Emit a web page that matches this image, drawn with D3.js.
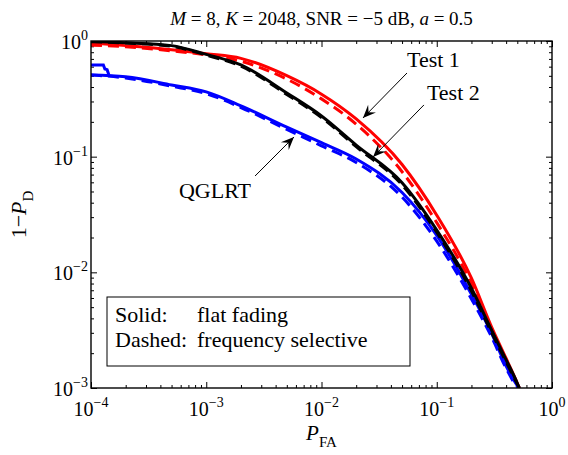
<!DOCTYPE html>
<html>
<head>
<meta charset="utf-8">
<script src="https://cdn.jsdelivr.net/npm/d3@7"></script>
<style>
  body { margin: 0; background: #fff; }
</style>
</head>
<body>
<div id="chart"></div>
<script>
const WIDTH = 568;
const HEIGHT = 455;
const MARGIN = { TOP: 41, BOTTOM: 67, LEFT: 91, RIGHT: 16 };
const SERIF = "'Liberation Serif'";

// shared P_FA grid
const pfa = [1e-4, 2e-4, 5e-4, 1e-3, 2e-3, 5e-3, 1e-2, 2e-2, 5e-2, 0.1, 0.2, 0.3, 0.4, 0.5, 0.52];

// 1 - P_D
const test1Flat = [0.962, 0.912, 0.841, 0.776, 0.708, 0.501, 0.347, 0.212, 0.0855, 0.0312, 0.00891, 0.00335, 0.0018, 0.00110, 0.001];
const test1Sel  = [0.923, 0.891, 0.822, 0.759, 0.668, 0.468, 0.316, 0.191, 0.0741, 0.0269, 0.00794, 0.00310, 0.00170, 0.00107, 0.001];
const test2Flat = [0.989, 0.966, 0.912, 0.767, 0.621, 0.355, 0.225, 0.126, 0.0595, 0.0232, 0.00729, 0.00315, 0.00175, 0.0011, 0.001];
const test2Sel  = [0.985, 0.960, 0.900, 0.755, 0.605, 0.345, 0.218, 0.122, 0.0570, 0.0222, 0.0069, 0.0030, 0.00168, 0.00108, 0.001];
const qglrtFlat = [0.508, 0.490, 0.417, 0.363, 0.275, 0.180, 0.132, 0.0955, 0.049, 0.0209, 0.00646, 0.00295, 0.00155, 0.00105, 0.001];
const qglrtSel  = [0.510, 0.479, 0.407, 0.351, 0.266, 0.172, 0.124, 0.0891, 0.0447, 0.0186, 0.00589, 0.00275, 0.00148, 0.00103, 0.001];

// stair at the very start of the flat-fading QGLRT curve
const qglrtHeadPfa = [1e-4, 1.28e-4, 1.32e-4, 1.38e-4, 1.43e-4];
const qglrtHeadVal = [0.62, 0.62, 0.573, 0.565, 0.508];

const xMajor = [1e-4, 1e-3, 1e-2, 1e-1, 1];
const yMajor = [1e-3, 1e-2, 1e-1, 1];
const xExp = ["−4", "−3", "−2", "−1", "0"];
const yExp = ["−3", "−2", "−1", "0"];

// annotation anchors, in data units
const notes = [
  { label: "Test 1", text: [0.0552, 0.596], tail: [0.0552, 0.529], head: [0.0229, 0.216] },
  { label: "Test 2", text: [0.0822, 0.309], tail: [0.0774, 0.280], head: [0.028, 0.0993] },
  { label: "QGLRT", text: [5.8e-4, 0.0439], tail: [0.00265, 0.068], head: [0.00577, 0.148] }
];

const w = WIDTH - MARGIN.LEFT - MARGIN.RIGHT;
const h = HEIGHT - MARGIN.TOP - MARGIN.BOTTOM;

const svg = d3.select('#chart')
  .append('svg')
    .attr('width', WIDTH)
    .attr('height', HEIGHT);

const g = svg.append('g')
  .attr('transform', `translate(${MARGIN.LEFT}, ${MARGIN.TOP})`);

// every text goes through here so the serif face sticks
const addText = (parent, size) => parent.append('text')
  .style('font-family', SERIF)
  .style('font-size', size + 'px')
  .attr('fill', '#000');

const x = d3.scaleLog().domain([1e-4, 1]).range([0, w]);
const y = d3.scaleLog().domain([1e-3, 1]).range([h, 0]);

const minors = (lo, hi) => {
  let out = [];
  for (let e = lo; e < hi; e++)
    for (let k = 2; k <= 9; k++) out.push(k * Math.pow(10, e));
  return out;
};
const xMinor = minors(-4, 0);
const yMinor = minors(-3, 0);

// ticks on all four sides, pointing inward
const addAxis = (axisFn, scale, vals, size, tr) => {
  const a = g.append('g')
    .attr('transform', tr)
    .call(axisFn(scale).tickValues(vals).tickSize(-size).tickFormat(''));
  a.select('.domain').remove();
  a.selectAll('line').attr('stroke', '#000').attr('stroke-width', 1);
};
addAxis(d3.axisBottom, x, xMajor, 6, `translate(0, ${h})`);
addAxis(d3.axisBottom, x, xMinor, 3, `translate(0, ${h})`);
addAxis(d3.axisTop, x, xMajor, 6, 'translate(0, 0)');
addAxis(d3.axisTop, x, xMinor, 3, 'translate(0, 0)');
addAxis(d3.axisLeft, y, yMajor, 6, 'translate(0, 0)');
addAxis(d3.axisLeft, y, yMinor, 3, 'translate(0, 0)');
addAxis(d3.axisRight, y, yMajor, 6, `translate(${w}, 0)`);
addAxis(d3.axisRight, y, yMinor, 3, `translate(${w}, 0)`);

g.append('defs').append('clipPath').attr('id', 'clip')
  .append('rect').attr('width', w).attr('height', h);

const line = d3.line()
  .x(d => x(d[0]))
  .y(d => y(d[1]))
  .curve(d3.curveMonotoneX);

const series = [
  { vals: test1Flat, color: '#ff0000', dash: null },
  { vals: test1Sel, color: '#ff0000', dash: '11,6' },
  { vals: qglrtFlat, color: '#0000ff', dash: null },
  { vals: qglrtSel, color: '#0000ff', dash: '11,6' },
  { vals: test2Flat, color: '#000000', dash: null },
  { vals: test2Sel, color: '#000000', dash: '11,6' }
];

const curves = g.append('g').attr('clip-path', 'url(#clip)');

curves.append('path')
  .datum(qglrtHeadPfa.map((p, i) => [p, qglrtHeadVal[i]]))
  .attr('d', d3.line().x(d => x(d[0])).y(d => y(d[1])))
  .attr('fill', 'none')
  .attr('stroke', '#0000ff')
  .attr('stroke-width', 3);

series.forEach(s => {
  curves.append('path')
    .datum(pfa.map((p, i) => [p, s.vals[i]]))
    .attr('d', line)
    .attr('fill', 'none')
    .attr('stroke', s.color)
    .attr('stroke-width', 3)
    .attr('stroke-dasharray', s.dash);
});

// box
g.append('rect')
  .attr('width', w)
  .attr('height', h)
  .attr('fill', 'none')
  .attr('stroke', '#000')
  .attr('stroke-width', 1.4);

// tick labels
xMajor.forEach((v, i) => {
  const t = addText(g, 20)
    .attr('x', x(v))
    .attr('y', h + 28)
    .attr('text-anchor', 'middle');
  t.append('tspan').text('10');
  t.append('tspan').attr('dy', -9).style('font-size', '14px').text(xExp[i]);
});

yMajor.forEach((v, i) => {
  const t = addText(g, 20)
    .attr('x', -3)
    .attr('y', y(v) + 8)
    .attr('text-anchor', 'end');
  t.append('tspan').text('10');
  t.append('tspan').attr('dy', -9).style('font-size', '14px').text(yExp[i]);
});

// axis labels
const xt = addText(svg, 21)
  .attr('x', MARGIN.LEFT + w / 2)
  .attr('y', 440)
  .attr('text-anchor', 'middle');
xt.append('tspan').style('font-style', 'italic').text('P');
xt.append('tspan').attr('dy', 7).style('font-size', '15px').text('FA');

const yt = addText(svg, 22)
  .attr('transform', `translate(26, ${MARGIN.TOP + h / 2}) rotate(-90)`)
  .attr('text-anchor', 'middle');
yt.append('tspan').text('1−');
yt.append('tspan').style('font-style', 'italic').text('P');
yt.append('tspan').attr('dy', 7).style('font-size', '15px').text('D');

// title
const tt = addText(svg, 19)
  .attr('x', MARGIN.LEFT + w / 2)
  .attr('y', 25)
  .attr('text-anchor', 'middle');
tt.append('tspan').style('font-style', 'italic').text('M');
tt.append('tspan').text(' = 8, ');
tt.append('tspan').style('font-style', 'italic').text('K');
tt.append('tspan').text(' = 2048, SNR = −5 dB, ');
tt.append('tspan').style('font-style', 'italic').text('a');
tt.append('tspan').text(' = 0.5');

// arrows
const arrowHead = (hx, hy, tx, ty) => {
  const ang = Math.atan2(hy - ty, hx - tx);
  const L = 13, W = 5.5, N = 8;
  const p = (d, o) => [hx - d * Math.cos(ang) - o * Math.sin(ang), hy - d * Math.sin(ang) + o * Math.cos(ang)];
  return [[hx, hy], p(L, W), p(N, 0), p(L, -W)];
};

notes.forEach(n => {
  const tx = x(n.tail[0]), ty = y(n.tail[1]);
  const hx = x(n.head[0]), hy = y(n.head[1]);
  g.append('line')
    .attr('x1', tx).attr('y1', ty)
    .attr('x2', hx).attr('y2', hy)
    .attr('stroke', '#000')
    .attr('stroke-width', 1);
  g.append('path')
    .attr('d', 'M' + arrowHead(hx, hy, tx, ty).join('L') + 'Z')
    .attr('fill', '#000');
  addText(g, 22)
    .attr('x', x(n.text[0]))
    .attr('y', y(n.text[1]))
    .text(n.label);
});

// legend box
const leg = svg.append('g').attr('transform', 'translate(107, 297)');
leg.append('rect')
  .attr('width', 303)
  .attr('height', 69)
  .attr('fill', '#fff')
  .attr('stroke', '#000')
  .attr('stroke-width', 1);
[['Solid:', 'flat fading'], ['Dashed:', 'frequency selective']].forEach((r, i) => {
  addText(leg, 22).attr('x', 8).attr('y', 25 + i * 25).text(r[0]);
  addText(leg, 22).attr('x', 90).attr('y', 25 + i * 25).text(r[1]);
});
</script>
</body>
</html>
